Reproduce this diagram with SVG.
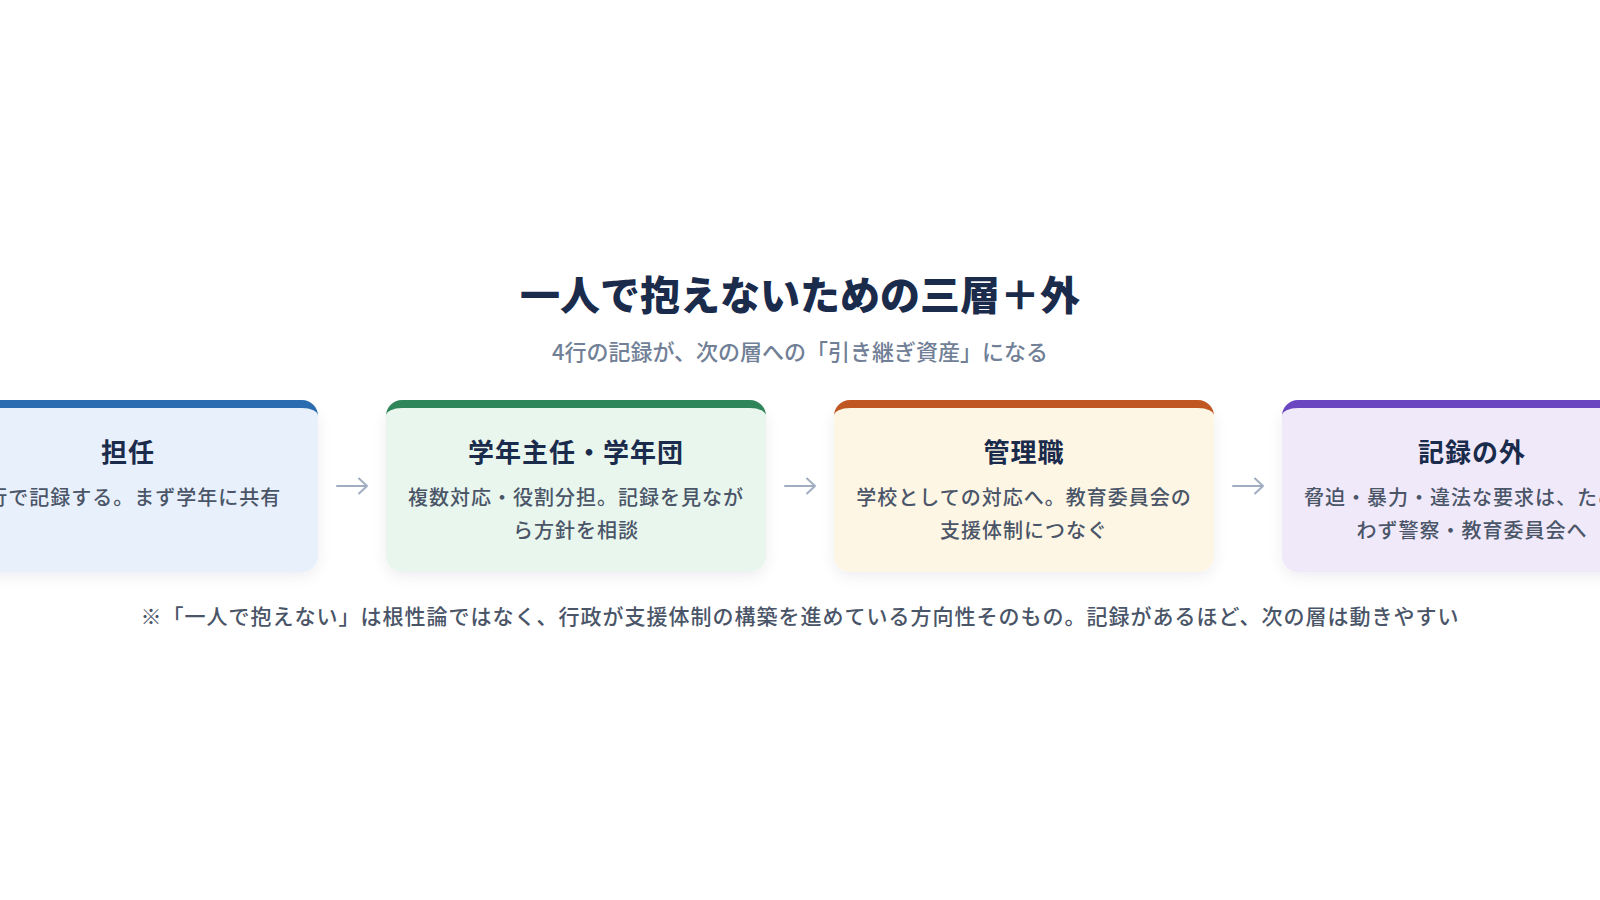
<svg xmlns="http://www.w3.org/2000/svg" width="1600" height="900" viewBox="0 0 1600 900">
  <style>
    text { font-family: "Noto Sans CJK JP", "Noto Sans", sans-serif; }
    .title { font-size: 40px; font-weight: 900; fill: #1a2b4b; text-anchor: middle; }
    .sub { font-size: 22px; font-weight: 500; fill: #718096; text-anchor: middle; }
    .ctitle { font-size: 26px; font-weight: 700; fill: #1a2b4b; text-anchor: middle; letter-spacing: 1px; }
    .body { font-size: 20px; font-weight: 500; fill: #4a5568; text-anchor: middle; letter-spacing: 1px; }
    .note { font-size: 21px; font-weight: 500; fill: #4a5568; text-anchor: middle; letter-spacing: 1px; }
    .arrow { fill: none; stroke: #a0aec0; stroke-width: 2; stroke-linecap: round; stroke-linejoin: round; }
  </style>
  <defs>
    <filter id="shadow" x="-10%" y="-20%" width="120%" height="150%">
      <feDropShadow dx="0" dy="4" stdDeviation="7" flood-color="#1a2b4b" flood-opacity="0.07"/>
    </filter>
  </defs>
  <rect width="1600" height="900" fill="#ffffff"/>

  <g id="header">
    <text class="title" x="800" y="310">一人で抱えないための三層＋外</text>
    <text class="sub" x="800" y="360">4行の記録が、次の層への「引き継ぎ資産」になる</text>
  </g>

  <g id="node-tannin">
    <path filter="url(#shadow)" fill="#e8f0fb" d="M-62,416 A16,8 0 0 1 -46,408 H302 A16,8 0 0 1 318,416 V556 A16,16 0 0 1 302,572 H-46 A16,16 0 0 1 -62,556 Z"/>
    <path fill="#2b6cb0" d="M-62,416 A16,16 0 0 1 -46,400 H302 A16,16 0 0 1 318,416 A16,8 0 0 0 302,408 H-46 A16,8 0 0 0 -62,416 Z"/>
    <text class="ctitle" x="128" y="462">担任</text>
    <text class="body" x="128" y="505">4行で記録する。まず学年に共有</text>
  </g>

  <g id="node-gakunen">
    <path filter="url(#shadow)" fill="#e9f6ee" d="M386,416 A16,8 0 0 1 402,408 H750 A16,8 0 0 1 766,416 V556 A16,16 0 0 1 750,572 H402 A16,16 0 0 1 386,556 Z"/>
    <path fill="#2f855a" d="M386,416 A16,16 0 0 1 402,400 H750 A16,16 0 0 1 766,416 A16,8 0 0 0 750,408 H402 A16,8 0 0 0 386,416 Z"/>
    <text class="ctitle" x="576" y="462">学年主任・学年団</text>
    <text class="body" x="576" y="505">複数対応・役割分担。記録を見なが</text>
    <text class="body" x="576" y="538">ら方針を相談</text>
  </g>

  <g id="node-kanri">
    <path filter="url(#shadow)" fill="#fef6e5" d="M834,416 A16,8 0 0 1 850,408 H1198 A16,8 0 0 1 1214,416 V556 A16,16 0 0 1 1198,572 H850 A16,16 0 0 1 834,556 Z"/>
    <path fill="#c05621" d="M834,416 A16,16 0 0 1 850,400 H1198 A16,16 0 0 1 1214,416 A16,8 0 0 0 1198,408 H850 A16,8 0 0 0 834,416 Z"/>
    <text class="ctitle" x="1024" y="462">管理職</text>
    <text class="body" x="1024" y="505">学校としての対応へ。教育委員会の</text>
    <text class="body" x="1024" y="538">支援体制につなぐ</text>
  </g>

  <g id="node-soto">
    <path filter="url(#shadow)" fill="#f0e9fa" d="M1282,416 A16,8 0 0 1 1298,408 H1646 A16,8 0 0 1 1662,416 V556 A16,16 0 0 1 1646,572 H1298 A16,16 0 0 1 1282,556 Z"/>
    <path fill="#6b46c1" d="M1282,416 A16,16 0 0 1 1298,400 H1646 A16,16 0 0 1 1662,416 A16,8 0 0 0 1646,408 H1298 A16,8 0 0 0 1282,416 Z"/>
    <text class="ctitle" x="1472" y="462">記録の外</text>
    <text class="body" x="1472" y="505">脅迫・暴力・違法な要求は、ためら</text>
    <text class="body" x="1472" y="538">わず警察・教育委員会へ</text>
  </g>

  <g id="connectors">
    <path class="arrow" d="M337,486 H367 M359,478.5 L367,486 L359,493.5"/>
    <path class="arrow" d="M785,486 H815 M807,478.5 L815,486 L807,493.5"/>
    <path class="arrow" d="M1233,486 H1263 M1255,478.5 L1263,486 L1255,493.5"/>
  </g>

  <g id="footnote">
    <text class="note" x="800" y="624">※「一人で抱えない」は根性論ではなく、行政が支援体制の構築を進めている方向性そのもの。記録があるほど、次の層は動きやすい</text>
  </g>
</svg>
